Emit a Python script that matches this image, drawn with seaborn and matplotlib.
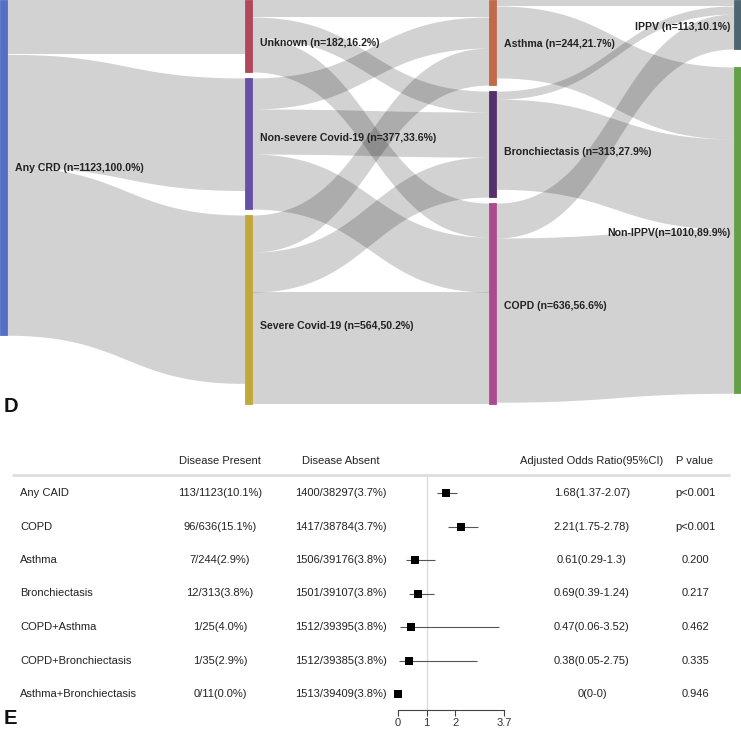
import numpy as np
import pandas as pd
import matplotlib
matplotlib.use("Agg")
import matplotlib.pyplot as plt
import seaborn as sns

sns.set_theme(style="white")
plt.rcParams['font.family'] = ['Liberation Sans', 'DejaVu Sans']

# ---------------- Sankey data (panel D) ----------------
node_names = ["Any CRD", "Unknown", "Non-severe Covid-19", "Severe Covid-19",
              "Asthma", "Bronchiectasis", "COPD", "IPPV", "Non-IPPV"]
node_labels = ["Any CRD (n=1123,100.0%)", "Unknown (n=182,16.2%)",
               "Non-severe Covid-19 (n=377,33.6%)", "Severe Covid-19 (n=564,50.2%)",
               "Asthma (n=244,21.7%)", "Bronchiectasis (n=313,27.9%)",
               "COPD (n=636,56.6%)", "IPPV (n=113,10.1%)", "Non-IPPV(n=1010,89.9%)"]
node_columns = [0, 1, 1, 1, 2, 2, 2, 3, 3]

link_source = ["Any CRD", "Any CRD", "Any CRD",
               "Unknown", "Unknown", "Unknown",
               "Non-severe Covid-19", "Non-severe Covid-19", "Non-severe Covid-19",
               "Severe Covid-19", "Severe Covid-19", "Severe Covid-19",
               "Asthma", "Asthma", "Bronchiectasis", "Bronchiectasis", "COPD", "COPD"]
link_target = ["Unknown", "Non-severe Covid-19", "Severe Covid-19",
               "Asthma", "Bronchiectasis", "COPD",
               "Asthma", "Bronchiectasis", "COPD",
               "Asthma", "Bronchiectasis", "COPD",
               "IPPV", "Non-IPPV", "IPPV", "Non-IPPV", "IPPV", "Non-IPPV"]
link_value = [182, 377, 564,
              57, 70, 114,
              104, 151, 184,
              124, 134, 375,
              20, 241, 27, 302, 117, 550]

# ---------------- Forest data (panel E) ----------------
rows = ["Any CAID", "COPD", "Asthma", "Bronchiectasis", "COPD+Asthma",
        "COPD+Bronchiectasis", "Asthma+Bronchiectasis"]
present_txt = ["113/1123(10.1%)", "96/636(15.1%)", "7/244(2.9%)", "12/313(3.8%)",
               "1/25(4.0%)", "1/35(2.9%)", "0/11(0.0%)"]
absent_txt = ["1400/38297(3.7%)", "1417/38784(3.7%)", "1506/39176(3.8%)",
              "1501/39107(3.8%)", "1512/39395(3.8%)", "1512/39385(3.8%)",
              "1513/39409(3.8%)"]
or_est = [1.68, 2.21, 0.61, 0.69, 0.47, 0.38, 0.0]
ci_low = [1.37, 1.75, 0.29, 0.39, 0.06, 0.05, 0.0]
ci_high = [2.07, 2.78, 1.30, 1.24, 3.52, 2.75, 0.0]
or_txt = ["1.68(1.37-2.07)", "2.21(1.75-2.78)", "0.61(0.29-1.3)", "0.69(0.39-1.24)",
          "0.47(0.06-3.52)", "0.38(0.05-2.75)", "0(0-0)"]
p_txt = ["p<0.001", "p<0.001", "0.200", "0.217", "0.462", "0.335", "0.946"]
headers = ["Disease Present", "Disease Absent", "Adjusted Odds Ratio(95%CI)", "P value"]
x_ticks = [0, 1, 2, 3.7]

# ---------------- style ----------------
node_colors = ["#5470c6", "#b0475a", "#6650a6", "#c2a83c", "#c06a4a",
               "#55306b", "#ab4a90", "#4b6670", "#63a048"]
label_dy = [0, 7, -5, 16, 1, 8, 2, 3, 3]

W, Hfig = 741, 732
fig = plt.figure(figsize=(W / 100, Hfig / 100), dpi=100)
ax = fig.add_axes([0, 0, 1, 1])
ax.set_xlim(0, W)
ax.set_ylim(Hfig, 0)
ax.axis("off")

# ---------- sankey layout ----------
H = 404
nw = 7
col_gap = {0: 6, 1: 6, 2: 6, 3: 18}
ncols = 4
idx = {n: i for i, n in enumerate(node_names)}
inv = np.zeros(len(node_names))
outv = np.zeros(len(node_names))
for s, t, v in zip(link_source, link_target, link_value):
    outv[idx[s]] += v
    inv[idx[t]] += v
nval = np.maximum(inv, outv)
kys = []
for c in range(ncols):
    members = [i for i in range(len(node_names)) if node_columns[i] == c]
    kys.append((H - (len(members) - 1) * col_gap[c]) / nval[members].sum())
ky = min(kys)
node_y0 = np.zeros(len(node_names))
node_h = nval * ky
node_x = np.array([c * (W - nw) / (ncols - 1) for c in node_columns])
for c in range(ncols):
    y = 0
    for i in [i for i in range(len(node_names)) if node_columns[i] == c]:
        node_y0[i] = y
        y += node_h[i] + col_gap[c]

# link stacking
links = list(zip(link_source, link_target, link_value))
src_off = {}
tgt_off = {}
for i in range(len(node_names)):
    outs = sorted([k for k, l in enumerate(links) if idx[l[0]] == i], key=lambda k: node_y0[idx[links[k][1]]])
    y = node_y0[i]
    for k in outs:
        src_off[k] = y
        y += links[k][2] * ky
    ins = sorted([k for k, l in enumerate(links) if idx[l[1]] == i], key=lambda k: node_y0[idx[links[k][0]]])
    y = node_y0[i]
    for k in ins:
        tgt_off[k] = y
        y += links[k][2] * ky

t = np.linspace(0, 1, 200)
for k, (s, tg, v) in enumerate(links):
    x0 = node_x[idx[s]] + nw
    x1 = node_x[idx[tg]]
    xm = (x0 + x1) / 2
    xs = (1 - t) ** 3 * x0 + 3 * (1 - t) ** 2 * t * xm + 3 * (1 - t) * t ** 2 * xm + t ** 3 * x1
    w = v * ky
    def yc(a, b):
        return (1 - t) ** 3 * a + 3 * (1 - t) ** 2 * t * a + 3 * (1 - t) * t ** 2 * b + t ** 3 * b
    ytop = yc(src_off[k], tgt_off[k])
    ybot = yc(src_off[k] + w, tgt_off[k] + w)
    ax.fill_between(xs, ytop, ybot, color="black", alpha=0.175, lw=0, zorder=1)

for i in range(len(node_names)):
    ax.add_patch(plt.Rectangle((node_x[i], node_y0[i]), nw, node_h[i],
                               facecolor=node_colors[i], edgecolor=node_colors[i],
                               lw=0.6, zorder=2))
    yc_ = node_y0[i] + node_h[i] / 2 + label_dy[i]
    if node_columns[i] == ncols - 1:
        ax.text(node_x[i] - 4, yc_, node_labels[i], ha="right", va="center",
                fontsize=7.6, fontweight="bold", color="#222222", zorder=3)
    else:
        ax.text(node_x[i] + nw + 8, yc_, node_labels[i], ha="left", va="center",
                fontsize=7.6, fontweight="bold", color="#222222", zorder=3)

ax.text(4, 406, "D", fontsize=14.5, fontweight="bold", color="#111111", ha="left", va="center")
ax.text(4, 719, "E", fontsize=14.5, fontweight="bold", color="#111111", ha="left", va="center")

# ---------- forest table ----------
header_y = 461
line_y = 475
row0 = 493
row_step = 33.5
col_x = [220, 341, 592, 695]
for x, h in zip(col_x, headers):
    ax.text(x, header_y, h, ha="center", va="center", fontsize=8, color="#222222")
ax.plot([12, 730], [line_y, line_y], color="#dddddd", lw=2, solid_capstyle="butt")
for i, r in enumerate(rows):
    y = row0 + i * row_step
    ax.text(20, y, r, ha="left", va="center", fontsize=8, color="#222222")
    ax.text(col_x[0], y, present_txt[i], ha="center", va="center", fontsize=8, color="#222222")
    ax.text(col_x[1], y, absent_txt[i], ha="center", va="center", fontsize=8, color="#222222")
    ax.text(col_x[2], y, or_txt[i], ha="center", va="center", fontsize=8, color="#222222")
    ax.text(col_x[3], y, p_txt[i], ha="center", va="center", fontsize=8, color="#222222")

# ---------- forest plot ----------
fx0, fx1 = 398, 504
fy_bottom = 710
axf = fig.add_axes([fx0 / W, (Hfig - fy_bottom) / Hfig, (fx1 - fx0) / W, (fy_bottom - line_y) / Hfig])
axf.set_facecolor("none")
df = pd.DataFrame({"row": np.arange(len(rows)), "or": or_est, "lo": ci_low, "hi": ci_high})
axf.axvline(1, color="#dcdcdc", lw=1, zorder=0)
axf.hlines(df["row"], df["lo"], df["hi"], color="#555555", lw=0.8, zorder=2)
sns.scatterplot(data=df, x="or", y="row", marker="s", s=36, color="black",
                edgecolor="black", linewidth=0, ax=axf, legend=False, zorder=3, clip_on=False)
axf.set_xlim(0, 3.7)
axf.set_ylim((fy_bottom - row0) / row_step, (line_y - row0) / row_step)
axf.set_xticks(x_ticks)
axf.set_xticklabels([("%g" % v) for v in x_ticks])
axf.set_yticks([])
axf.set_xlabel("")
axf.set_ylabel("")
for sp in ["left", "right", "top"]:
    axf.spines[sp].set_visible(False)
axf.spines["bottom"].set_color("#444444")
axf.spines["bottom"].set_linewidth(0.8)
axf.tick_params(axis="x", bottom=True, length=4, width=0.8, color="#444444",
                labelsize=8, labelcolor="#333333", pad=2)

fig.savefig("out.png", dpi=100)
